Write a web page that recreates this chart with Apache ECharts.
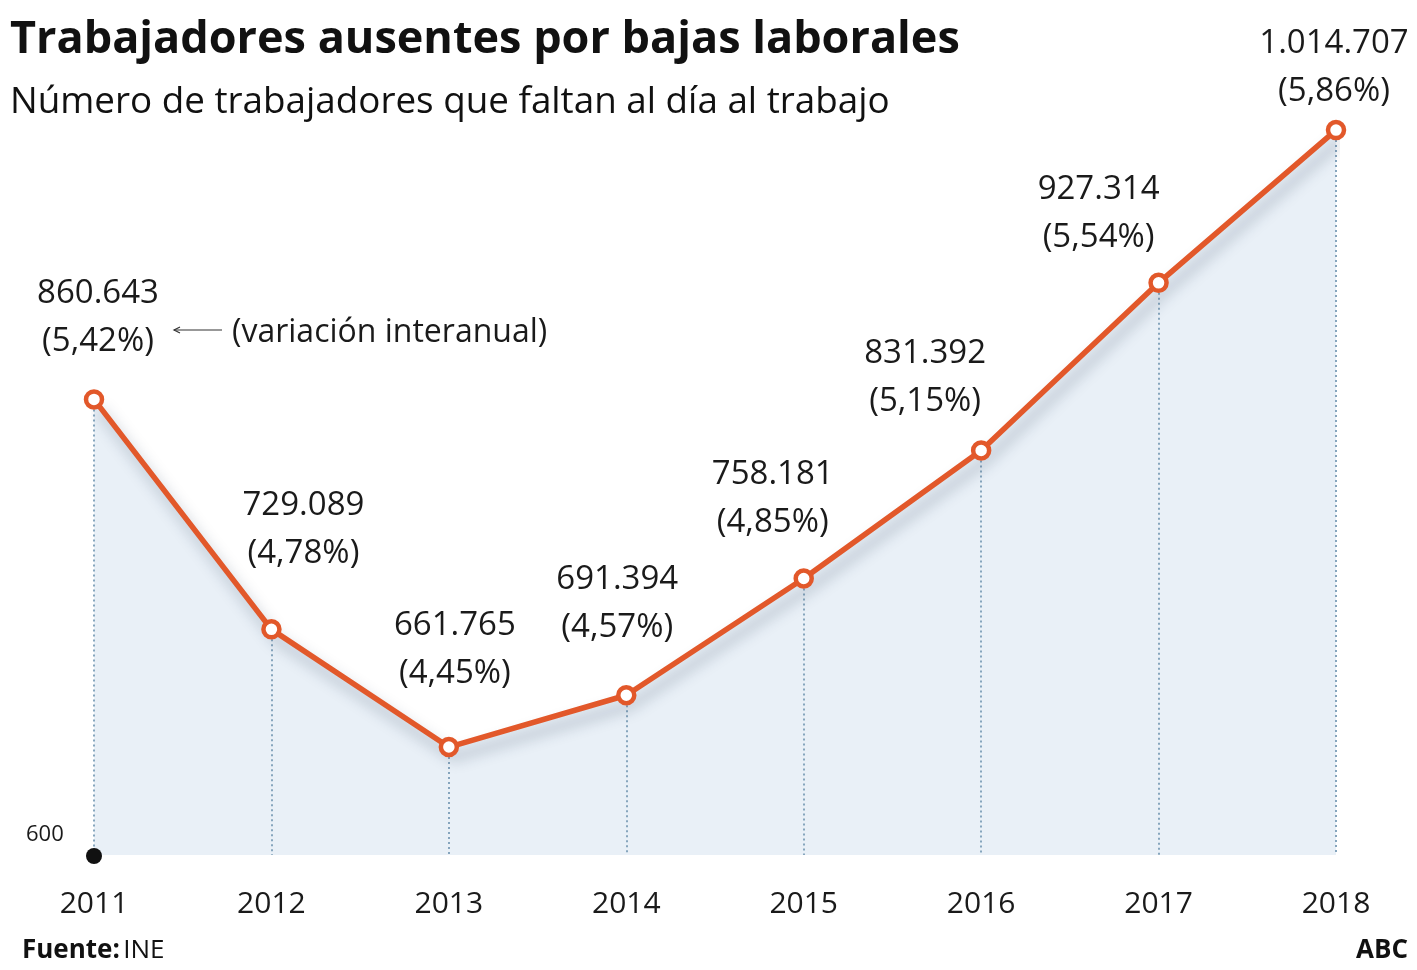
<!DOCTYPE html>
<html><head><meta charset="utf-8">
<script src="https://cdn.jsdelivr.net/npm/echarts@6/dist/echarts.min.js"></script>
<style>html,body{margin:0;padding:0;background:#fff}#c{width:1417px;height:970px}</style>
</head><body><div id="c"></div>
<script>
const years = ['2011','2012','2013','2014','2015','2016','2017','2018'];
const workers = [860.643, 729.089, 661.765, 691.394, 758.181, 831.392, 927.314, 1014.707];
const workerLabels = ['860.643','729.089','661.765','691.394','758.181','831.392','927.314','1.014.707'];
const variation = ['5,42%','4,78%','4,45%','4,57%','4,85%','5,15%','5,54%','5,86%'];
const yMinTick = 600;

const FONT = '"Open Sans", "Noto Sans", sans-serif';
const labelOffsets = [[4,-24],[32,-42],[6,-39],[-9,-33],[-31,-22],[-56,-15],[-60,-11],[-2,-4]];

const chart = echarts.init(document.getElementById('c'));
const data = workers.map((v,i)=>({
  value: v,
  label: {offset: labelOffsets[i]}
}));
chart.setOption({
  animation:false,
  textStyle:{fontFamily:FONT},
  grid:{left:94,right:81,top:68.4,bottom:115},
  xAxis:{type:'category',data:years,boundaryGap:false,
    axisLine:{show:false},axisTick:{show:false},splitLine:{show:false},
    axisLabel:{fontSize:30,color:'#1a1a1a',margin:34,fontFamily:FONT}},
  yAxis:{type:'value',min:yMinTick,max:1050,show:false},
  series:[{
    type:'line',data:workers,z:1,silent:true,showSymbol:false,symbol:'none',
    lineStyle:{opacity:0},
    areaStyle:{color:'#e9f0f7',origin:'start',opacity:1},
    markLine:{silent:true,symbol:'none',label:{show:false},
      lineStyle:{color:'#86a5bd',type:[2,3],width:2},
      data:workers.map((v,i)=>[{coord:[i,v]},{coord:[i,yMinTick]}])}
  },{
    type:'line',data:data,z:5,
    lineStyle:{color:'#e2582a',width:5.5,shadowColor:'rgba(40,60,90,0.35)',shadowBlur:14,shadowOffsetX:5,shadowOffsetY:10},
    itemStyle:{color:'#ffffff',borderColor:'#e2582a',borderWidth:4.5},
    symbol:'circle',symbolSize:16,
    label:{show:true,position:'top',distance:0,fontSize:33,lineHeight:48,color:'#1a1a1a',fontFamily:FONT,
      formatter:p=>workerLabels[p.dataIndex]+'\n('+variation[p.dataIndex]+')'}
  }],
  graphic:[
    {type:'text',left:10,top:18,style:{text:'Trabajadores ausentes por bajas laborales',font:'bold 45px '+FONT,fill:'#111'}},
    {type:'text',left:10,top:84,style:{text:'Número de trabajadores que faltan al día al trabajo',font:'36.8px '+FONT,fill:'#111'}},
    {type:'text',left:232,top:317,style:{text:'(variación interanual)',font:'32px '+FONT,fill:'#1a1a1a'}},
    {type:'line',shape:{x1:174,y1:330,x2:222,y2:330},style:{stroke:'#333',lineWidth:1.2}},
    {type:'polyline',shape:{points:[[180,327],[174,330],[180,333]]},style:{stroke:'#333',lineWidth:1.2,fill:null}},
    {type:'text',left:26,top:824,style:{text:'600',font:'22px '+FONT,fill:'#1a1a1a'}},
    {type:'circle',shape:{cx:94,cy:856,r:8},style:{fill:'#111'},z:10},
    {type:'text',left:22,top:938,style:{rich:{b:{font:'bold 26px '+FONT,fill:'#111'},n:{font:'26px '+FONT,fill:'#111'}},text:'{b|Fuente:} {n|INE}'}},
    {type:'text',right:9,top:938,style:{text:'ABC',font:'bold 26px '+FONT,fill:'#111'}}
  ]
});
</script></body></html>
